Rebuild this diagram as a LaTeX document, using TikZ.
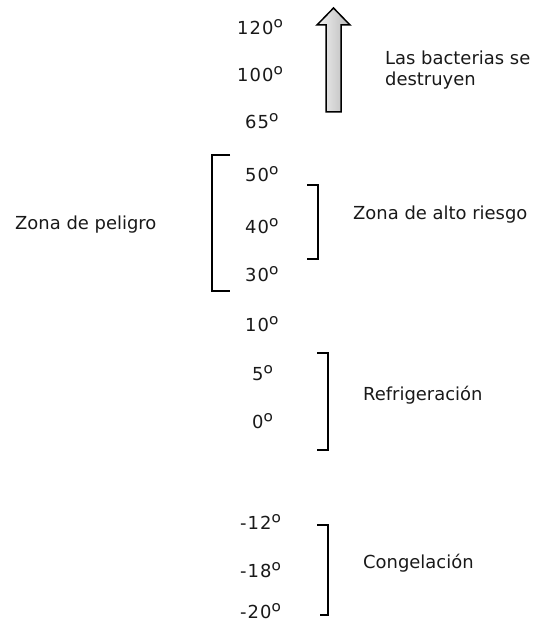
\documentclass[tikz,border=0pt]{standalone}
\usepackage{fontspec}
\setmainfont{DejaVu Sans}
\newfontfamily\ordfont{Open Sans}
\newcommand\dotem[1]{{\addfontfeatures{LetterSpace=6}#1}\raisebox{-3bp}[0pt][0pt]{\ordfont\fontsize{25}{25}\selectfont º}}
\begin{document}
\begin{tikzpicture}[x=1bp,y=-1bp,font=\fontsize{18}{21}\selectfont,
	nhan/.style={anchor=west,inner sep=0pt,text=black!90},
	ngoac/.style={line width=1.7bp}]
	\useasboundingbox (0,0) rectangle (545,628);
	%Các mức nhiệt độ
	\foreach \n/\tem/\x/\y in {a/120/237/28,b/100/237/75,c/65/245/122,d/50/245/175,e/40/245/227,f/30/245/275,g/10/245/325,h/5/252/374,i/0/252/422,j/-12/240/523,k/-18/240/571,l/-20/240/612}
	\node[nhan] (t\n) at (\x,\y) {\dotem{\tem}};
	%Mũi tên
	\draw[line width=1.5bp,left color=gray!10,right color=gray!55]
	(326,112)--(326,25)--(317,25)--(333.5,8)--(350,25)--(341,25)--(341,112)--cycle;
	%Các ngoặc
	\draw[ngoac] (230,155)--(212,155)--(212,291)--(230,291);
	\draw[ngoac] (307,185)--(318,185)--(318,259)--(307,259);
	\draw[ngoac] (317,353)--(328,353)--(328,450)--(317,450);
	\draw[ngoac] (317,525)--(328,525)--(328,615)--(320,615);
	\node[nhan,align=left] (bacterias) at (385,70) {Las bacterias se\\destruyen};
	\node[nhan] (peligro) at (15,225) {Zona de peligro};
	\node[nhan] (alto) at (353,215) {Zona de alto riesgo};
	\node[nhan] (refri) at (363,395) {Refrigeración};
	\node[nhan] (conge) at (363,563) {Congelación};
\end{tikzpicture}
\end{document}
